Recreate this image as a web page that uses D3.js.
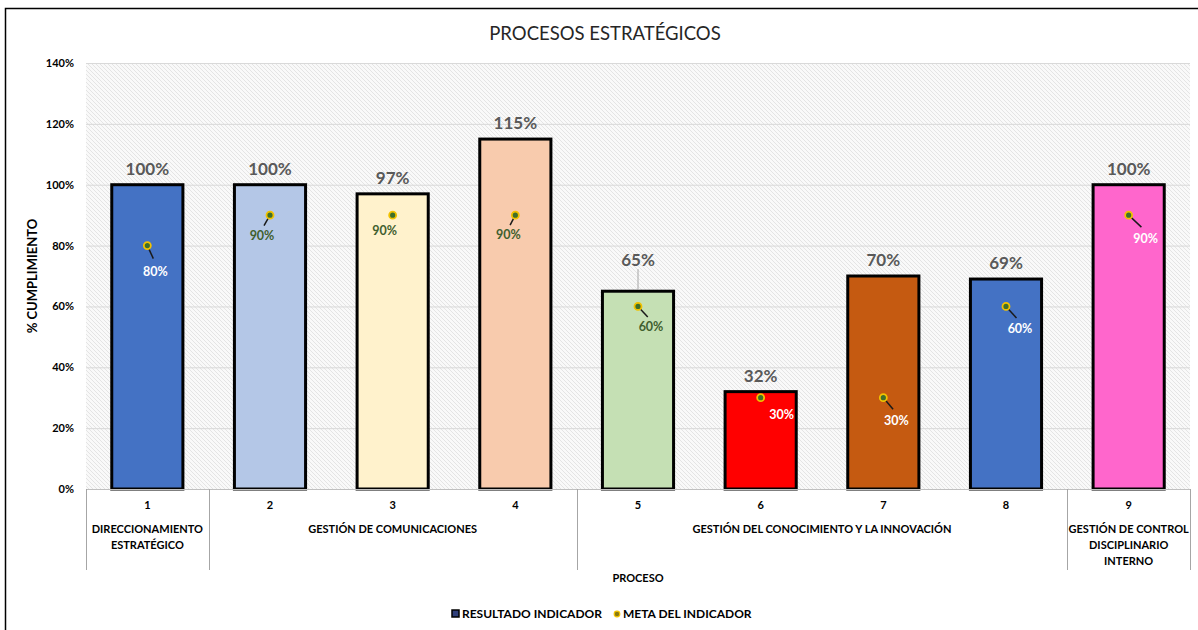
<!DOCTYPE html>
<html><head><meta charset="utf-8">
<script src="https://cdn.jsdelivr.net/npm/d3@7/dist/d3.min.js"></script>
<style>
html,body{margin:0;padding:0;background:#fff;}
svg{display:block;font-family:Lato, "Open Sans", sans-serif;}
</style></head>
<body><svg id="c" width="1198" height="630"></svg>
<script>
const categories = ["1","2","3","4","5","6","7","8","9"];
const resultado = [100,100,97,115,65,32,70,69,100];
const meta = [80,90,90,90,60,30,30,60,90];
const barColors = ["#4472C4","#B4C7E7","#FFF2CC","#F8CBAD","#C5E0B4","#FF0000","#C55A11","#4472C4","#FF66CC"];
const metaLabelColors = ["#ffffff","#3F5F2F","#3F5F2F","#3F5F2F","#3F5F2F","#ffffff","#ffffff","#ffffff","#ffffff"];
// label offset direction for meta labels (dx, dy) and whether a leader line is drawn
const metaOffsets = [[8,26,1],[-8,21,1],[-8,16,0],[-7,20,1],[13,21,1],[21,17,0],[13,23,1],[14,23,1],[17,24,1]];
const groups = [
  {from:0,to:0,lines:["DIRECCIONAMIENTO","ESTRATÉGICO"]},
  {from:1,to:3,lines:["GESTIÓN DE COMUNICACIONES"]},
  {from:4,to:7,lines:["GESTIÓN DEL CONOCIMIENTO Y LA INNOVACIÓN"]},
  {from:8,to:8,lines:["GESTIÓN DE CONTROL","DISCIPLINARIO","INTERNO"]}
];
const yTicks = [0,20,40,60,80,100,120,140];

const svg = d3.select("#c");
const L=86, R=1190, T=63, B=489;
const x = d3.scaleBand().domain(categories).range([L,R]).paddingInner(0.42).paddingOuter(0.21);
const xb = d3.scaleBand().domain(categories).range([L,R]);
const y = d3.scaleLinear().domain([0,140]).range([B,T]);

// frame
svg.append("path").attr("d",`M5.5,630 V8.5 H1198`).attr("fill","none").attr("stroke","#000").attr("stroke-width",1.5);

// hatch pattern
const defs = svg.append("defs");
const pat = defs.append("pattern").attr("id","hatch").attr("patternUnits","userSpaceOnUse").attr("width",4).attr("height",4);
pat.append("rect").attr("width",4).attr("height",4).attr("fill","#f9f9f9");
pat.append("path").attr("d","M-1,-1 L5,5 M-1,3 L1,5 M3,-1 L5,1").attr("stroke","#dedede").attr("stroke-width",0.8);
svg.append("rect").attr("x",L).attr("y",T).attr("width",R-L).attr("height",B-T).attr("fill","url(#hatch)");

// title
svg.append("text").attr("x",605).attr("y",40).attr("text-anchor","middle").attr("font-size",18.5).attr("fill","#262626").text("PROCESOS ESTRATÉGICOS");

// gridlines
svg.append("g").selectAll("line").data(yTicks.filter(d=>d>0)).join("line")
  .attr("x1",L).attr("x2",R).attr("y1",d=>y(d)+0.5).attr("y2",d=>y(d)+0.5)
  .attr("stroke","#d9d9d9").attr("stroke-width",1);

// y axis
const yAxis = d3.axisLeft(y).tickValues(yTicks).tickFormat(d=>d+"%").tickSize(0).tickPadding(12);
const ya = svg.append("g").attr("transform",`translate(${L},0)`).call(yAxis);
ya.select(".domain").remove();
ya.selectAll("text").attr("font-size",11).attr("font-weight","bold").attr("fill","#000").attr("font-family","Lato, sans-serif");

svg.append("text").attr("transform",`translate(37,${276}) rotate(-90)`).attr("text-anchor","middle")
  .attr("font-size",13).attr("font-weight","bold").attr("fill","#000").text("% CUMPLIMIENTO");

// bars
svg.append("g").selectAll("rect").data(resultado).join("rect")
  .attr("x",(d,i)=>x(categories[i])).attr("width",x.bandwidth())
  .attr("y",d=>y(d)).attr("height",d=>B-y(d))
  .attr("fill",(d,i)=>barColors[i]).attr("stroke","#000").attr("stroke-width",3);

// x axis line
svg.append("line").attr("x1",L).attr("x2",R).attr("y1",B+0.5).attr("y2",B+0.5).attr("stroke","#bfbfbf");

// value labels
svg.append("g").selectAll("text").data(resultado).join("text")
  .attr("x",(d,i)=>x(categories[i])+x.bandwidth()/2)
  .attr("y",(d,i)=> i===4 ? y(d)-25 : y(d)-10)
  .attr("text-anchor","middle").attr("font-size",17).attr("font-weight","bold").attr("fill","#595959")
  .text(d=>d+"%");
// leader for 65%
svg.append("line").attr("x1",x(categories[4])+x.bandwidth()/2).attr("x2",x(categories[4])+x.bandwidth()/2)
  .attr("y1",y(resultado[4])-22).attr("y2",y(resultado[4])-2).attr("stroke","#a6a6a6").attr("stroke-width",1);

// meta points + leaders + labels
const mg = svg.append("g");
meta.forEach((m,i)=>{
  const cx = xb(categories[i])+xb.bandwidth()/2, cy = y(m);
  const [dx,dy,line] = metaOffsets[i];
  if(line){
    const ex = cx + dx*0.75, ey = cy + dy*0.5;
    mg.append("line").attr("x1",cx).attr("y1",cy).attr("x2",ex).attr("y2",ey).attr("stroke","#1a1a1a").attr("stroke-width",1.5);
  }
  mg.append("circle").attr("cx",cx).attr("cy",cy).attr("r",3.5).attr("fill","#3F6F2A").attr("stroke","#F2C200").attr("stroke-width",1.8);
  mg.append("text").attr("x",cx+dx).attr("y",cy+dy+4).attr("text-anchor","middle")
    .attr("font-size",12.5).attr("font-weight","bold").attr("fill",metaLabelColors[i]).text(m+"%");
});

// category tick labels
svg.append("g").selectAll("text").data(categories).join("text")
  .attr("x",d=>xb(d)+xb.bandwidth()/2).attr("y",509).attr("text-anchor","middle")
  .attr("font-size",11).attr("font-weight","bold").attr("fill","#000").text(d=>d);

// group separators
const seps = [L, xb(categories[1]), xb(categories[4]), xb(categories[8]), R];
svg.append("g").selectAll("line").data(seps).join("line")
  .attr("x1",d=>Math.round(d)+0.5).attr("x2",d=>Math.round(d)+0.5).attr("y1",B).attr("y2",570)
  .attr("stroke","#a6a6a6").attr("stroke-width",1);

// group labels
groups.forEach(g=>{
  const cx = (xb(categories[g.from]) + xb(categories[g.to]) + xb.bandwidth())/2;
  g.lines.forEach((t,j)=>{
    svg.append("text").attr("x",cx).attr("y",533+j*16).attr("text-anchor","middle")
      .attr("font-size",11).attr("font-weight","bold").attr("fill","#000").text(t);
  });
});

svg.append("text").attr("x",638).attr("y",582).attr("text-anchor","middle")
  .attr("font-size",11).attr("font-weight","bold").attr("fill","#000").text("PROCESO");

// legend
const lg = svg.append("g");
lg.append("rect").attr("x",452).attr("y",610).attr("width",7).attr("height",7).attr("fill","#2F3F7A").attr("stroke","#000").attr("stroke-width",1.5);
lg.append("text").attr("x",462).attr("y",618).attr("font-size",12).attr("font-weight","bold").attr("fill","#000").text("RESULTADO INDICADOR");
lg.append("circle").attr("cx",617).attr("cy",614).attr("r",2.8).attr("fill","#8A7A10").attr("stroke","#F2C200").attr("stroke-width",1.2);
lg.append("text").attr("x",623).attr("y",618).attr("font-size",12).attr("font-weight","bold").attr("fill","#000").text("META DEL INDICADOR");
</script></body></html>
